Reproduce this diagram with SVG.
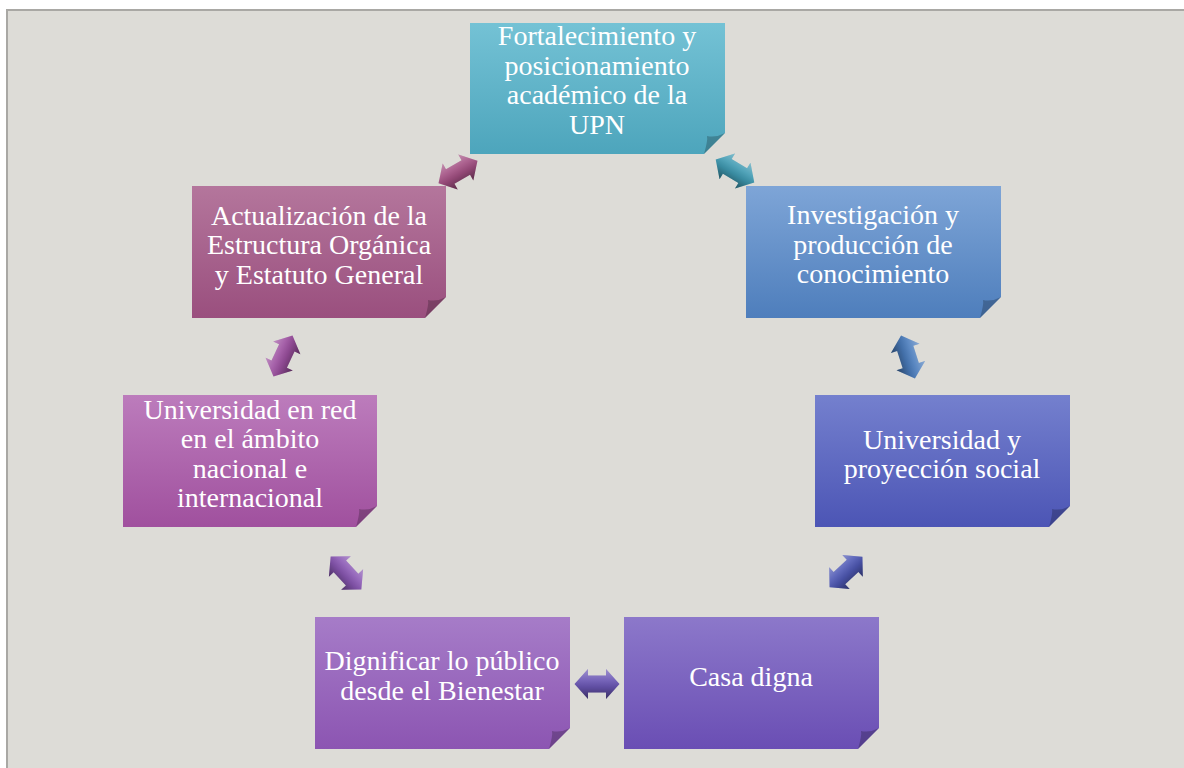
<svg xmlns="http://www.w3.org/2000/svg" width="1184" height="768" viewBox="0 0 1184 768">
<defs>
<linearGradient id="gTeal" x1="0" y1="0" x2="0" y2="1"><stop offset="0" stop-color="#74C2D5"/><stop offset="1" stop-color="#4DA5BC"/></linearGradient>
<linearGradient id="gBlue" x1="0" y1="0" x2="0" y2="1"><stop offset="0" stop-color="#7EA5D7"/><stop offset="1" stop-color="#4E7EBC"/></linearGradient>
<linearGradient id="gIndigo" x1="0" y1="0" x2="0" y2="1"><stop offset="0" stop-color="#7480CE"/><stop offset="1" stop-color="#4C55B5"/></linearGradient>
<linearGradient id="gViolet" x1="0" y1="0" x2="0" y2="1"><stop offset="0" stop-color="#8C78CA"/><stop offset="1" stop-color="#6A4EB4"/></linearGradient>
<linearGradient id="gPurple" x1="0" y1="0" x2="0" y2="1"><stop offset="0" stop-color="#A67CC8"/><stop offset="1" stop-color="#8C55B2"/></linearGradient>
<linearGradient id="gOrchid" x1="0" y1="0" x2="0" y2="1"><stop offset="0" stop-color="#BC7CBC"/><stop offset="1" stop-color="#A0509E"/></linearGradient>
<linearGradient id="gMauve" x1="0" y1="0" x2="0" y2="1"><stop offset="0" stop-color="#B4769C"/><stop offset="1" stop-color="#9A4F7E"/></linearGradient>
<linearGradient id="shade" x1="0" y1="0" x2="0" y2="1">
<stop offset="0" stop-color="#ffffff" stop-opacity="0.35"/>
<stop offset="0.35" stop-color="#ffffff" stop-opacity="0.1"/>
<stop offset="0.6" stop-color="#000000" stop-opacity="0.1"/>
<stop offset="1" stop-color="#000000" stop-opacity="0.45"/>
</linearGradient>
<polygon id="dbl" points="-22.5,0 -9,-15 -9,-8.5 9,-8.5 9,-15 22.5,0 9,15 9,8.5 -9,8.5 -9,15"/>
</defs>
<style>
.lbl{font-family:"Liberation Serif","Times New Roman",serif;font-size:28px;fill:#ffffff;text-anchor:middle}
.fold{fill:#000000;fill-opacity:0.22}
.shd{fill:url(#shade)}
</style>
<rect x="0" y="0" width="1184" height="768" fill="#ffffff"/>
<rect x="7" y="10" width="1190" height="770" fill="#DDDCD7" stroke="#A9A8A4" stroke-width="2"/>

<g id="connectors">
<g transform="translate(458,172) rotate(-30)"><use href="#dbl" fill="#A24F82"/><use href="#dbl" class="shd"/></g>
<g transform="translate(735,171) rotate(31)"><use href="#dbl" fill="#3F9AB2"/><use href="#dbl" class="shd"/></g>
<g transform="translate(283,356) rotate(-65)"><use href="#dbl" fill="#9C50A0"/><use href="#dbl" class="shd"/></g>
<g transform="translate(908,357) rotate(72)"><use href="#dbl" fill="#4A7CBC"/><use href="#dbl" class="shd"/></g>
<g transform="translate(346,573) rotate(47)"><use href="#dbl" fill="#8A58B4"/><use href="#dbl" class="shd"/></g>
<g transform="translate(846,572) rotate(-43)"><use href="#dbl" fill="#4E58B4"/><use href="#dbl" class="shd"/></g>
<g transform="translate(597,684)"><use href="#dbl" fill="#6A56B4"/><use href="#dbl" class="shd"/></g>
</g>

<g id="n1">
<path d="M470,23 H725 V133 L704,154 H470 Z" fill="url(#gTeal)"/>
<path class="fold" d="M725,133 L704,154 Q708,140 707,136 Q716,138 725,133 Z"/>
<text class="lbl" x="597" y="45">Fortalecimiento y</text>
<text class="lbl" x="597" y="75">posicionamiento</text>
<text class="lbl" x="597" y="104">académico de la</text>
<text class="lbl" x="597" y="134">UPN</text>
</g>

<g id="n2">
<path d="M746,186 H1001 V297 L980,318 H746 Z" fill="url(#gBlue)"/>
<path class="fold" d="M1001,297 L980,318 Q984,304 983,300 Q992,302 1001,297 Z"/>
<text class="lbl" x="873" y="224">Investigación y</text>
<text class="lbl" x="873" y="254">producción de</text>
<text class="lbl" x="873" y="283">conocimiento</text>
</g>

<g id="n3">
<path d="M815,395 H1070 V506 L1049,527 H815 Z" fill="url(#gIndigo)"/>
<path class="fold" d="M1070,506 L1049,527 Q1053,513 1052,509 Q1061,511 1070,506 Z"/>
<text class="lbl" x="942" y="449">Universidad y</text>
<text class="lbl" x="942" y="478">proyección social</text>
</g>

<g id="n4">
<path d="M624,617 H879 V728 L858,749 H624 Z" fill="url(#gViolet)"/>
<path class="fold" d="M879,728 L858,749 Q862,735 861,731 Q870,733 879,728 Z"/>
<text class="lbl" x="751" y="686">Casa digna</text>
</g>

<g id="n5">
<path d="M315,617 H570 V728 L549,749 H315 Z" fill="url(#gPurple)"/>
<path class="fold" d="M570,728 L549,749 Q553,735 552,731 Q561,733 570,728 Z"/>
<text class="lbl" x="442" y="670">Dignificar lo público</text>
<text class="lbl" x="442" y="700">desde el Bienestar</text>
</g>

<g id="n6">
<path d="M123,395 H377 V506 L356,527 H123 Z" fill="url(#gOrchid)"/>
<path class="fold" d="M377,506 L356,527 Q360,513 359,509 Q368,511 377,506 Z"/>
<text class="lbl" x="250" y="419">Universidad en red</text>
<text class="lbl" x="250" y="448">en el ámbito</text>
<text class="lbl" x="250" y="478">nacional e</text>
<text class="lbl" x="250" y="507">internacional</text>
</g>

<g id="n7">
<path d="M192,186 H446 V297 L425,318 H192 Z" fill="url(#gMauve)"/>
<path class="fold" d="M446,297 L425,318 Q429,304 428,300 Q437,302 446,297 Z"/>
<text class="lbl" x="319" y="225">Actualización de la</text>
<text class="lbl" x="319" y="254">Estructura Orgánica</text>
<text class="lbl" x="319" y="284">y Estatuto General</text>
</g>
</svg>
